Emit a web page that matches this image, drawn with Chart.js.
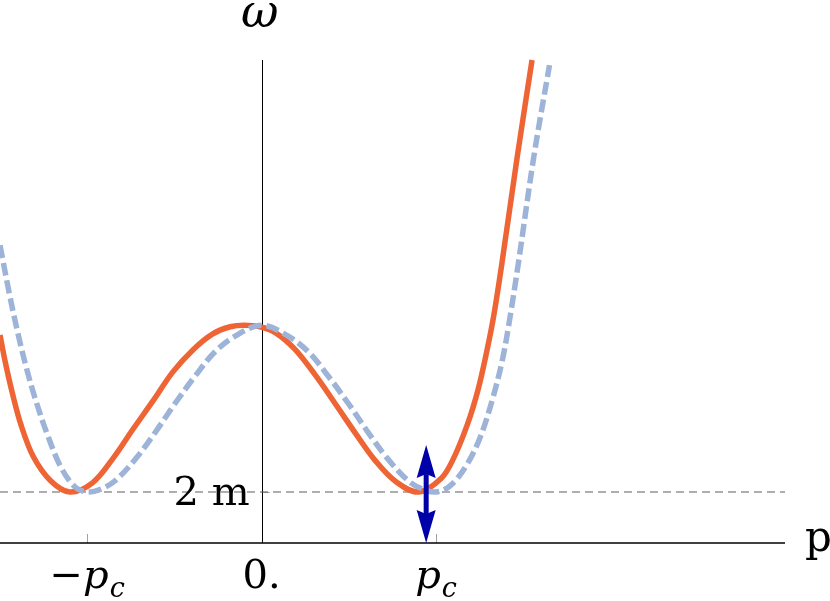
<!DOCTYPE html>
<html><head><meta charset="utf-8">
<script src="https://cdn.jsdelivr.net/npm/chart.js@4"></script>
<style>html,body{margin:0;padding:0;background:#fff;overflow:hidden}</style>
</head><body>
<canvas id="c" width="830" height="601"></canvas>
<script>
// ---- data (p in units of p_c, omega in units of 2m above the axis) ----
const orangeP = [-1.50,-1.47,-1.43,-1.38,-1.31,-1.21,-1.10,-0.97,-0.85,-0.74,-0.62,-0.51,-0.39,-0.28,-0.18,-0.10,-0.01,0.08,0.19,0.31,0.42,0.54,0.65,0.77,0.90,1.03,1.10,1.18,1.24,1.29,1.33,1.38,1.465,1.55];
const orangeW = [4.08,3.55,2.95,2.32,1.70,1.22,1.00,1.18,1.67,2.22,2.80,3.35,3.80,4.10,4.24,4.27,4.24,4.12,3.80,3.28,2.74,2.14,1.62,1.20,1.00,1.27,1.66,2.33,3.00,3.75,4.45,5.55,7.57,9.47];
const blueP = [-1.50,-1.45,-1.40,-1.35,-1.30,-1.23,-1.15,-1.07,-1.00,-0.92,-0.84,-0.72,-0.61,-0.50,-0.38,-0.27,-0.15,0.00,0.15,0.27,0.38,0.50,0.61,0.72,0.84,0.92,1.00,1.08,1.17,1.25,1.32,1.38,1.42,1.47,1.56,1.65];
const blueW = [5.84,4.95,4.15,3.45,2.85,2.14,1.48,1.10,1.00,1.06,1.22,1.66,2.17,2.72,3.28,3.74,4.06,4.27,4.06,3.74,3.28,2.72,2.17,1.66,1.22,1.06,1.00,1.12,1.50,2.05,2.78,3.59,4.35,5.45,7.57,9.37];
const twoM = 1;
const xMin = -1.5, xMax = 3.0;
const yMin = 0, yMax = 9.47;
const xTickValues = [-1, 0, 1];
const xTickLabels = [
  [{t:'\u2212', it:false}, {t:'p', it:true}, {t:'c', it:true, sub:true}],
  [{t:'0.', it:false}],
  [{t:'p', it:true}, {t:'c', it:true, sub:true}]
];
const yTickValues = [twoM];
const yTickLabels = ['2 m'];
const xAxisTitle = 'p';
const yAxisTitle = '\u03C9';
const arrowP = 0.943, arrowFrom = 0, arrowTo = 1.92;

const FONT = '"DejaVu Serif", serif';
const ORANGE = '#EE6435';
const BLUE = '#9DB3D8';
const ARROW = '#0000A8';

const toXY = (ps, ws) => ps.map((p, i) => ({x: p, y: ws[i]}));

function drawRich(ctx, parts, cx, baseline, size) {
  const subSize = Math.round(size * 0.68);
  const fontOf = part => (part.it ? 'italic ' : '') + (part.sub ? subSize : size) + 'px ' + FONT;
  let w = 0;
  parts.forEach(pt => { ctx.font = fontOf(pt); w += ctx.measureText(pt.t).width + (pt.sub ? 1 : 0); });
  let x = cx - w / 2;
  ctx.textAlign = 'left';
  ctx.textBaseline = 'alphabetic';
  parts.forEach(pt => {
    ctx.font = fontOf(pt);
    if (pt.sub) x += 1;
    ctx.fillText(pt.t, x, baseline + (pt.sub ? 9 : 0));
    x += ctx.measureText(pt.t).width;
  });
}

const axesPlugin = {
  id: 'axesPlugin',
  beforeDatasetsDraw(chart) {
    const {ctx, scales: {x, y}} = chart;
    const x0 = x.getPixelForValue(0), y0 = y.getPixelForValue(0);
    ctx.save();
    ctx.strokeStyle = '#A0A0A0';
    ctx.lineWidth = 1;
    xTickValues.forEach(v => {
      if (v === 0) return;
      const px = Math.round(x.getPixelForValue(v)) + 0.5;
      ctx.beginPath(); ctx.moveTo(px, y0); ctx.lineTo(px, y0 - 9); ctx.stroke();
    });
    yTickValues.forEach(v => {
      const py = Math.round(y.getPixelForValue(v)) + 0.5;
      ctx.beginPath(); ctx.moveTo(x0, py); ctx.lineTo(x0 + 8, py); ctx.stroke();
    });
    ctx.strokeStyle = '#000';
    ctx.lineWidth = 1.4;
    ctx.beginPath(); ctx.moveTo(x.getPixelForValue(xMin), y0); ctx.lineTo(x.getPixelForValue(xMax), y0); ctx.stroke();
    ctx.lineWidth = 1;
    ctx.beginPath(); ctx.moveTo(Math.round(x0) + 0.5, y0); ctx.lineTo(Math.round(x0) + 0.5, y.getPixelForValue(yMax)); ctx.stroke();
    ctx.restore();
  },
  afterDatasetsDraw(chart) {
    const {ctx, scales: {x, y}} = chart;
    const ax = x.getPixelForValue(arrowP);
    const yb = y.getPixelForValue(arrowFrom), yt = y.getPixelForValue(arrowTo);
    const headL = 33, headW = 19;
    ctx.save();
    ctx.fillStyle = ARROW;
    ctx.fillRect(ax - 2.5, yt + headL - 4, 5, (yb - yt) - 2 * headL + 8);
    ctx.beginPath(); ctx.moveTo(ax, yt); ctx.lineTo(ax + headW / 2, yt + headL); ctx.lineTo(ax, yt + headL - 4); ctx.lineTo(ax - headW / 2, yt + headL); ctx.closePath(); ctx.fill();
    ctx.beginPath(); ctx.moveTo(ax, yb); ctx.lineTo(ax + headW / 2, yb - headL); ctx.lineTo(ax, yb - headL + 4); ctx.lineTo(ax - headW / 2, yb - headL); ctx.closePath(); ctx.fill();
    ctx.restore();
  },
  afterDraw(chart) {
    const {ctx, scales: {x, y}} = chart;
    const x0 = x.getPixelForValue(0), y0 = y.getPixelForValue(0);
    ctx.save();
    ctx.fillStyle = '#000';
    xTickValues.forEach((v, i) => drawRich(ctx, xTickLabels[i], x.getPixelForValue(v), y0 + 45, 40));
    ctx.font = '40px ' + FONT;
    ctx.textAlign = 'right'; ctx.textBaseline = 'alphabetic';
    yTickValues.forEach((v, i) => ctx.fillText(yTickLabels[i], x0 - 12, y.getPixelForValue(v) + 13));
    ctx.font = '42px ' + FONT;
    ctx.textAlign = 'left';
    ctx.fillText(xAxisTitle, x.getPixelForValue(xMax) + 20, y0 + 8);
    ctx.font = 'italic 46px ' + FONT;
    ctx.textAlign = 'center';
    ctx.fillText(yAxisTitle, x0 - 2, 27);
    ctx.restore();
  }
};

new Chart(document.getElementById('c'), {
  type: 'line',
  data: {
    datasets: [
      { label: 'shifted', data: toXY(blueP, blueW), borderColor: BLUE, borderWidth: 5.5, borderDash: [13, 5], borderCapStyle: 'butt', pointRadius: 0, fill: false, tension: 0.35, clip: false },
      { label: 'original', data: toXY(orangeP, orangeW), borderColor: ORANGE, borderWidth: 5.5, pointRadius: 0, fill: false, tension: 0.35, clip: false },
      { label: '2m', data: [{x: xMin, y: twoM}, {x: xMax, y: twoM}], borderColor: '#5E5E5E', borderWidth: 1, borderDash: [8, 5], pointRadius: 0, fill: false }
    ]
  },
  options: {
    responsive: false,
    animation: false,
    events: [],
    layout: { padding: { left: 0, right: 45, top: 60, bottom: 58 } },
    plugins: { legend: { display: false }, tooltip: { enabled: false }, title: { display: false } },
    scales: {
      x: { type: 'linear', min: xMin, max: xMax, display: false },
      y: { type: 'linear', min: yMin, max: yMax, display: false }
    }
  },
  plugins: [axesPlugin]
});
</script>
</body></html>
